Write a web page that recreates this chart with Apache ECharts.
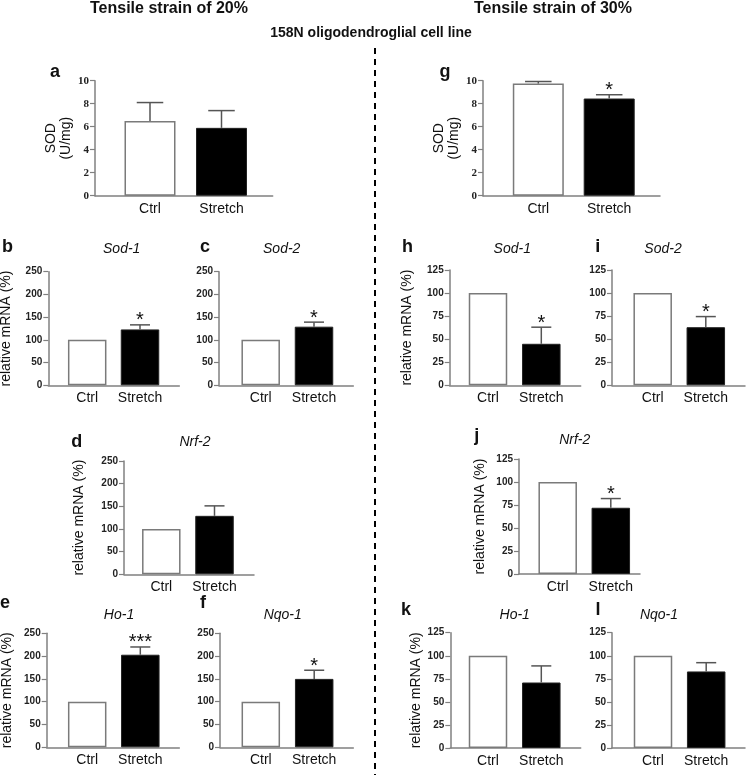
<!DOCTYPE html>
<html>
<head>
<meta charset="utf-8">
<script src="https://cdn.jsdelivr.net/npm/echarts@6.0.0/dist/echarts.min.js"></script>
<style>
  html, body { margin: 0; padding: 0; background: #fff; }
  #chart { width: 746px; height: 775px; }
</style>
</head>
<body>
<div id="chart"></div>
<script>
// groups on every x axis
const groups = ['Ctrl', 'Stretch'];

// y ticks
const sodTicks = [0, 2, 4, 6, 8, 10];
const mrna20Ticks = [0, 50, 100, 150, 200, 250];
const mrna30Ticks = [0, 25, 50, 75, 100, 125];

// tensile strain 20%
const sod20 = [6.5, 5.9];
const sod20Sd = [1.6, 1.5];
const sod20Sig = ['', ''];
const sod1_20 = [100, 123];
const sod1_20Sd = [0, 10];
const sod1_20Sig = ['', '*'];
const sod2_20 = [100, 129];
const sod2_20Sd = [0, 10];
const sod2_20Sig = ['', '*'];
const nrf2_20 = [100, 129];
const nrf2_20Sd = [0, 22];
const nrf2_20Sig = ['', ''];
const ho1_20 = [100, 203];
const ho1_20Sd = [0, 17];
const ho1_20Sig = ['', '***'];
const nqo1_20 = [100, 150];
const nqo1_20Sd = [0, 19];
const nqo1_20Sig = ['', '*'];

// tensile strain 30%
const sod30 = [9.75, 8.45];
const sod30Sd = [0.18, 0.33];
const sod30Sig = ['', '*'];
const sod1_30 = [100, 45];
const sod1_30Sd = [0, 18];
const sod1_30Sig = ['', '*'];
const sod2_30 = [100, 63];
const sod2_30Sd = [0, 11.5];
const sod2_30Sig = ['', '*'];
const nrf2_30 = [100, 72];
const nrf2_30Sd = [0, 10];
const nrf2_30Sig = ['', '*'];
const ho1_30 = [100, 71];
const ho1_30Sd = [0, 18];
const ho1_30Sig = ['', ''];
const nqo1_30 = [100, 83];
const nqo1_30Sd = [0, 9.5];
const nqo1_30Sig = ['', ''];

const SANS = 'Liberation Sans, Arial, sans-serif';
const SERIF = 'Liberation Serif, Times New Roman, serif';
const AXIS = '#808080';
const MRNA = 'relative mRNA (%)';

// panel layout (pixels)
const panels = [
	{letter: 'a', lx: 55, ly: 72, vals: sod20, sd: sod20Sd, sig: sod20Sig, ticks: sodTicks, serif: true,
		x0: 95, x1: 272.7, c1: 150, c2: 221.5, top: 80.7, bot: 195.7, bw: 51, name: 'SOD\n(U/mg)', gap: 20},
	{letter: 'g', lx: 445, ly: 72, vals: sod30, sd: sod30Sd, sig: sod30Sig, ticks: sodTicks, serif: true,
		x0: 483, x1: 660, c1: 538.3, c2: 609.2, top: 80.7, bot: 195.7, bw: 51, name: 'SOD\n(U/mg)', gap: 20},
	{letter: 'b', lx: 7.5, ly: 246.7, title: 'Sod-1', tx: 121.7, ty: 249.3, vals: sod1_20, sd: sod1_20Sd, sig: sod1_20Sig, ticks: mrna20Ticks,
		x0: 48.3, x1: 179.3, c1: 87.2, c2: 140, top: 271.7, bot: 385.3, bw: 38.5, name: MRNA, gap: 35},
	{letter: 'c', lx: 205, ly: 246.7, title: 'Sod-2', tx: 281.7, ty: 249.3, vals: sod2_20, sd: sod2_20Sd, sig: sod2_20Sig, ticks: mrna20Ticks,
		x0: 219, x1: 353.3, c1: 260.7, c2: 314, top: 271.7, bot: 385.3, bw: 38.5},
	{letter: 'h', lx: 407.5, ly: 246.7, title: 'Sod-1', tx: 512.3, ty: 249.3, vals: sod1_30, sd: sod1_30Sd, sig: sod1_30Sig, ticks: mrna30Ticks,
		x0: 449.7, x1: 580.7, c1: 488, c2: 541.3, top: 270, bot: 385.3, bw: 38.5, name: MRNA, gap: 35},
	{letter: 'i', lx: 597.7, ly: 246.7, title: 'Sod-2', tx: 663, ty: 249.3, vals: sod2_30, sd: sod2_30Sd, sig: sod2_30Sig, ticks: mrna30Ticks,
		x0: 612, x1: 745, c1: 652.7, c2: 705.8, top: 270, bot: 385.3, bw: 38.5},
	{letter: 'd', lx: 76.7, ly: 441.7, title: 'Nrf-2', tx: 195, ty: 441.7, vals: nrf2_20, sd: nrf2_20Sd, sig: nrf2_20Sig, ticks: mrna20Ticks,
		x0: 124, x1: 254, c1: 161.3, c2: 214.5, top: 461, bot: 574.3, bw: 38.5, name: MRNA, gap: 37},
	{letter: 'j', lx: 476.7, ly: 436.5, title: 'Nrf-2', tx: 574.7, ty: 440, vals: nrf2_30, sd: nrf2_30Sd, sig: nrf2_30Sig, ticks: mrna30Ticks,
		x0: 519, x1: 640, c1: 557.7, c2: 610.8, top: 459, bot: 574, bw: 38.5, name: MRNA, gap: 31},
	{letter: 'e', lx: 5, ly: 603, title: 'Ho-1', tx: 119, ty: 615, vals: ho1_20, sd: ho1_20Sd, sig: ho1_20Sig, ticks: mrna20Ticks,
		x0: 46.7, x1: 179.3, c1: 87.2, c2: 140.3, top: 633.3, bot: 747.3, bw: 38.5, name: MRNA, gap: 32},
	{letter: 'f', lx: 203, ly: 603, title: 'Nqo-1', tx: 282.7, ty: 615, vals: nqo1_20, sd: nqo1_20Sd, sig: nqo1_20Sig, ticks: mrna20Ticks,
		x0: 220, x1: 353.3, c1: 260.8, c2: 314.2, top: 633.3, bot: 747.3, bw: 38.5},
	{letter: 'k', lx: 406, ly: 610, title: 'Ho-1', tx: 514.7, ty: 615, vals: ho1_30, sd: ho1_30Sd, sig: ho1_30Sig, ticks: mrna30Ticks,
		x0: 450.3, x1: 580.7, c1: 488, c2: 541.3, top: 632.7, bot: 748, bw: 38.5, name: MRNA, gap: 26},
	{letter: 'l', lx: 598, ly: 610, title: 'Nqo-1', tx: 659, ty: 615, vals: nqo1_30, sd: nqo1_30Sd, sig: nqo1_30Sig, ticks: mrna30Ticks,
		x0: 612, x1: 745, c1: 653, c2: 706.2, top: 632.7, bot: 748, bw: 38.5}
];

const barColors = [
	{color: '#fff', borderColor: '#7a7a7a', borderWidth: 1.5},
	{color: '#000', borderColor: '#222', borderWidth: 1}
];

const grid = [], xAxis = [], yAxis = [], series = [];
const graphic = [];

function label(text, x, y, size, weight, style) {
	graphic.push({
		type: 'text', x: x, y: y, silent: true,
		style: {
			text: text, fill: '#111', align: 'center', verticalAlign: 'middle',
			font: (style || 'normal') + ' ' + (weight || 'normal') + ' ' + size + 'px ' + SANS
		}
	});
}

label('Tensile strain of 20%', 169, 9, 16, 'bold');
label('Tensile strain of 30%', 553, 9, 16, 'bold');
label('158N oligodendroglial cell line', 371, 33, 14, 'bold');

graphic.push({
	type: 'line', silent: true,
	shape: {x1: 375, y1: 48, x2: 375, y2: 775},
	style: {stroke: '#000', lineWidth: 2, lineDash: [6, 5]}
});

panels.forEach(function (p, k) {
	const unit = p.c2 - p.c1;
	grid.push({
		left: p.x0, top: p.top, width: p.x1 - p.x0, height: p.bot - p.top,
		containLabel: false, outerBoundsMode: 'none'
	});
	xAxis.push({
		type: 'value', gridIndex: k,
		min: -(p.c1 - p.x0) / unit,
		max: 1 + (p.x1 - p.c2) / unit,
		axisLine: {show: true, onZero: false, lineStyle: {color: AXIS, width: 1.5}},
		axisTick: {show: false},
		splitLine: {show: false},
		axisLabel: {
			customValues: [0, 1],
			margin: 6,
			color: '#111',
			fontSize: 14,
			fontFamily: SANS,
			formatter: function (v) { return groups[Math.round(v)] || ''; }
		}
	});
	const t = p.ticks;
	yAxis.push({
		type: 'value', gridIndex: k,
		min: t[0], max: t[t.length - 1], interval: t[1] - t[0],
		name: p.name || '',
		nameLocation: 'middle', nameRotate: 90, nameGap: p.gap || 30,
		nameTextStyle: {fontSize: 14, fontFamily: SANS, color: '#111', lineHeight: 15},
		axisLine: {show: true, onZero: false, lineStyle: {color: AXIS, width: 1.5}},
		axisTick: {show: true, length: 5, lineStyle: {color: AXIS, width: 1.2}},
		splitLine: {show: false},
		axisLabel: {
			margin: 6,
			color: '#222',
			fontSize: p.serif ? 11 : 10,
			fontWeight: 'bold',
			fontFamily: p.serif ? SERIF : SANS
		}
	});
	series.push({
		type: 'bar', xAxisIndex: k, yAxisIndex: k,
		barWidth: p.bw,
		silent: true,
		data: p.vals.map(function (v, i) {
			return {value: [i, v], itemStyle: barColors[i]};
		})
	});
	const cap = p.bw * 0.52;
	series.push({
		type: 'custom', xAxisIndex: k, yAxisIndex: k, z: 5, clip: false, silent: true,
		data: p.vals.map(function (v, i) { return [i, v, p.sd[i]]; }),
		renderItem: function (params, api) {
			const i = api.value(0), m = api.value(1), e = api.value(2);
			const base = api.coord([i, m]);
			const tip = api.coord([i, m + e]);
			const kids = [];
			if (e > 0) {
				kids.push({type: 'line', shape: {x1: base[0], y1: base[1], x2: tip[0], y2: tip[1]},
					style: {stroke: '#555', lineWidth: 1.5}});
				kids.push({type: 'line', shape: {x1: tip[0] - cap / 2, y1: tip[1], x2: tip[0] + cap / 2, y2: tip[1]},
					style: {stroke: '#555', lineWidth: 1.5}});
			}
			const s = p.sig[params.dataIndex];
			if (s) {
				kids.push({type: 'text', x: tip[0], y: tip[1] - 4,
					style: {text: s, fill: '#111', align: 'center', verticalAlign: 'middle',
						font: 'normal 20px ' + SANS}});
			}
			return {type: 'group', children: kids};
		}
	});
	label(p.letter, p.lx, p.ly, 18, 'bold');
	if (p.title) label(p.title, p.tx, p.ty, 14, 'normal', 'italic');
});

const chart = echarts.init(document.getElementById('chart'));
chart.setOption({
	animation: false,
	backgroundColor: '#fff',
	grid: grid,
	xAxis: xAxis,
	yAxis: yAxis,
	series: series,
	graphic: graphic
});
</script>
</body>
</html>
